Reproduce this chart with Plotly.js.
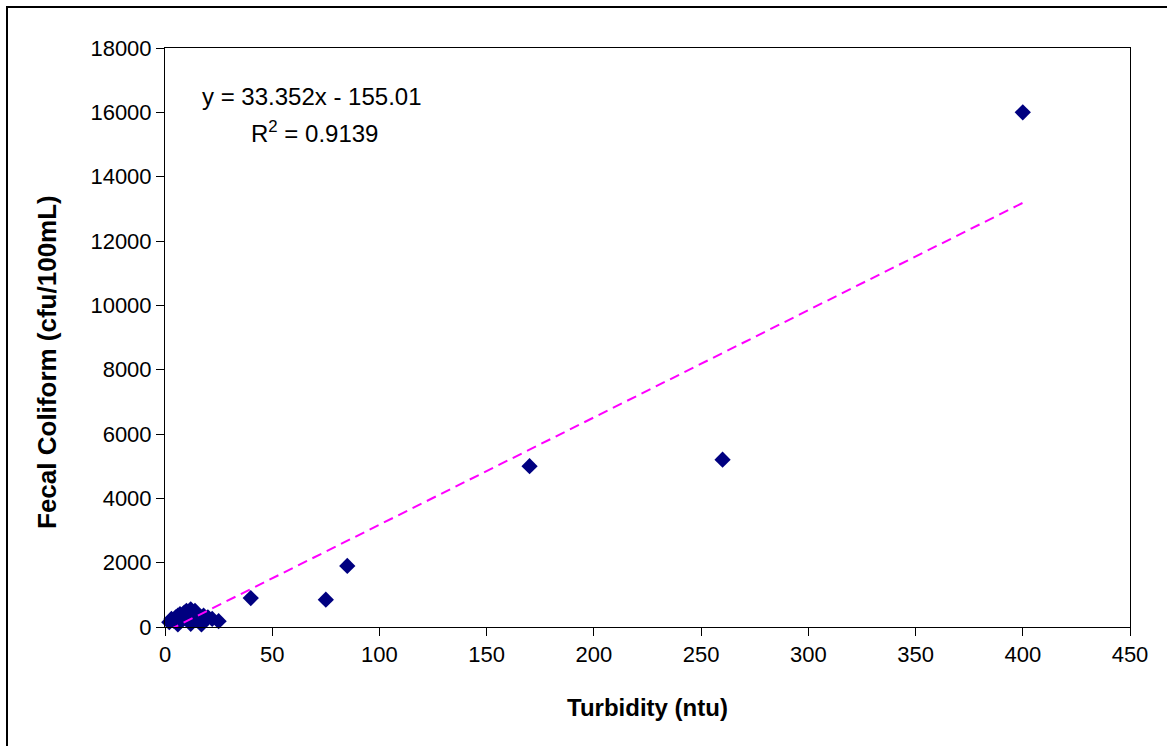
<!DOCTYPE html>
<html>
<head>
<meta charset="utf-8">
<script src="https://cdn.plot.ly/plotly-3.0.1.min.js"></script>
<style>
html,body{margin:0;padding:0;width:1167px;height:746px;overflow:hidden;background:#fff;}
#frame{position:absolute;left:6px;top:6px;width:1200px;height:800px;border-left:2px solid #000;border-top:2px solid #000;}
#chart{position:absolute;left:0;top:0;width:1167px;height:746px;}
</style>
</head>
<body>
<div id="chart"></div>
<div id="frame"></div>
<script>
const turbidity = [2, 3, 4, 5, 6, 6, 7, 8, 9, 10, 11, 12, 12, 13, 14, 15, 16, 17, 18, 20, 22, 25, 40, 75, 85, 170, 260, 400];
const fecalColiform = [150, 250, 200, 300, 80, 350, 400, 300, 450, 500, 250, 100, 550, 400, 500, 300, 200, 80, 350, 300, 250, 180, 900, 850, 1900, 5000, 5200, 16000];
// Linear trend line coefficients as printed on the chart
const slope = 33.352;
const intercept = -155.01;
const rSquared = 0.9139;
const xTicks = [0, 50, 100, 150, 200, 250, 300, 350, 400, 450];
const yTicks = [0, 2000, 4000, 6000, 8000, 10000, 12000, 14000, 16000, 18000];
const xTitle = 'Turbidity (ntu)';
const yTitle = 'Fecal Coliform (cfu/100mL)';

const xMin = Math.min(...turbidity), xMax = Math.max(...turbidity);
const trendX = [xMin, xMax];
const trendY = trendX.map(x => slope * x + intercept);

const fam = 'Liberation Sans, Arial, sans-serif';
const tickFont = {family: fam, size: 22, color: '#000'};
const titleFont = {family: fam, size: 24, color: '#000'};
const yTitleFont = {family: fam, size: 26, color: '#000'};
const annFont = {family: fam, size: 24, color: '#000'};

const data = [
  {x: turbidity, y: fecalColiform, type: 'scatter', mode: 'markers',
   marker: {symbol: 'diamond', size: 12.5, color: '#000080'}, showlegend: false, cliponaxis: false},
  {x: trendX, y: trendY, type: 'scatter', mode: 'lines',
   line: {color: '#FF00FF', width: 2, dash: '10px,6px'}, showlegend: false}
];

const layout = {
  width: 1167, height: 746,
  margin: {l: 165, r: 37, t: 48, b: 119},
  paper_bgcolor: '#fff', plot_bgcolor: '#fff',
  font: tickFont,
  xaxis: {range: [0, 450], tickvals: xTicks, ticktext: xTicks.map(String),
    showgrid: false, zeroline: false, showline: true, linecolor: '#000', linewidth: 1, mirror: true,
    ticks: 'outside', ticklen: 8, tickcolor: '#000', tickfont: tickFont,
    title: {text: '<b>' + xTitle + '</b>', font: titleFont, standoff: 32}},
  yaxis: {range: [0, 18000], tickvals: yTicks, ticktext: yTicks.map(String),
    showgrid: false, zeroline: false, showline: true, linecolor: '#000', linewidth: 1, mirror: true,
    ticks: 'outside', ticklen: 8, tickcolor: '#000', tickfont: tickFont},
  annotations: [
    {xref: 'paper', yref: 'paper', x: -0.1223, y: 0.4577, xanchor: 'center', yanchor: 'middle',
     textangle: -90, text: '<b>' + yTitle + '</b>', showarrow: false, font: yTitleFont},
    {xref: 'paper', yref: 'paper', x: 0.152, y: 0.917, xanchor: 'center', yanchor: 'middle',
     text: 'y = ' + slope + 'x - ' + Math.abs(intercept).toFixed(2), showarrow: false, font: annFont},
    {xref: 'paper', yref: 'paper', x: 0.155, y: 0.855, xanchor: 'center', yanchor: 'middle',
     text: 'R<sup>2</sup> = ' + rSquared, showarrow: false, font: annFont}
  ]
};

Plotly.newPlot('chart', data, layout, {staticPlot: true, displayModeBar: false});
</script>
</body>
</html>
